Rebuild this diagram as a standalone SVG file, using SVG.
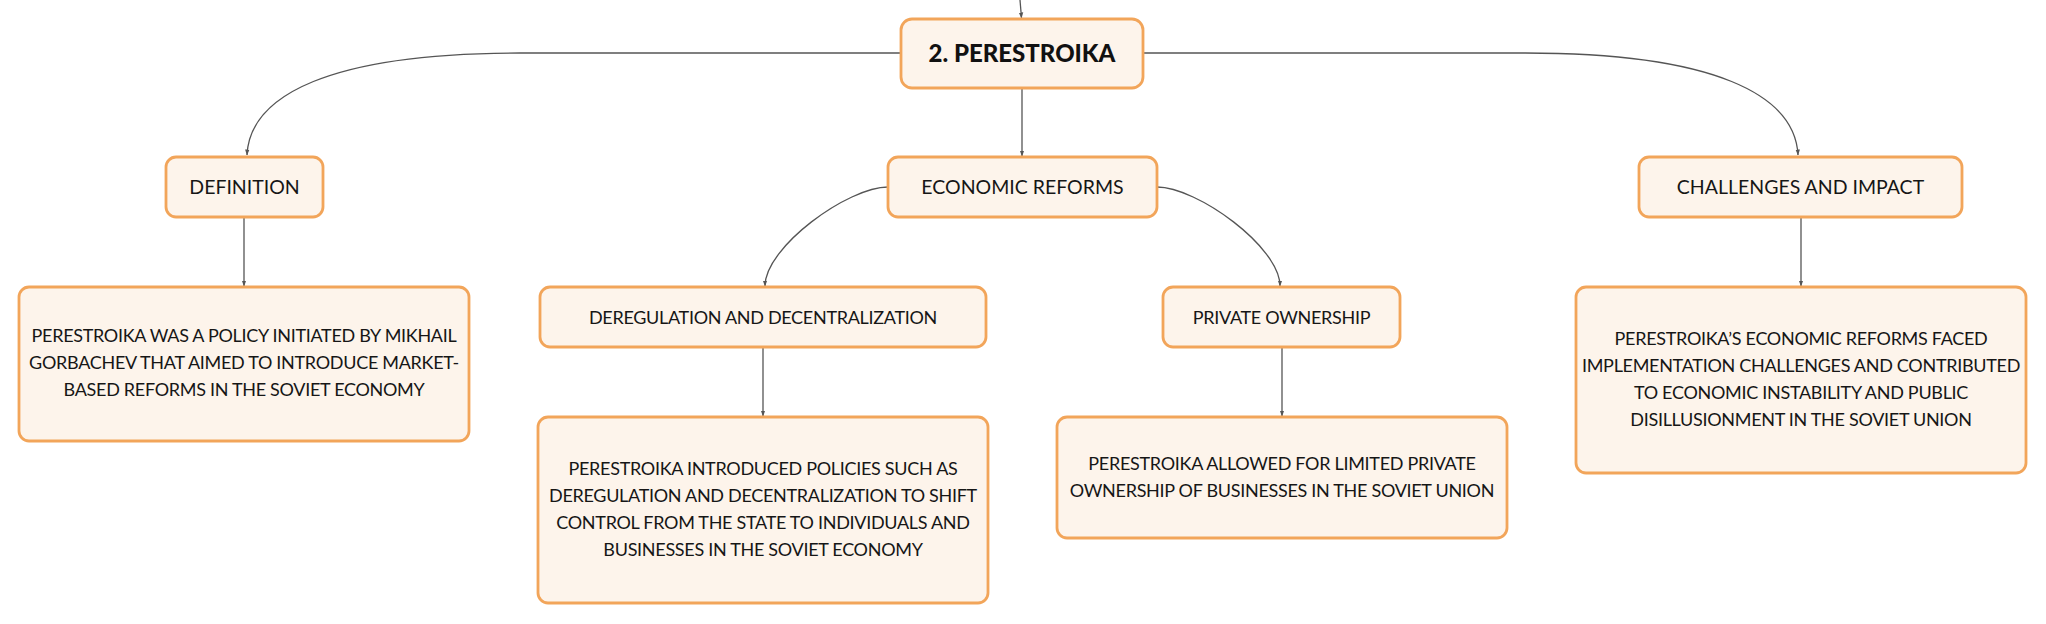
<svg xmlns="http://www.w3.org/2000/svg" width="2046" height="624" viewBox="0 0 2046 624">
<defs>
<style>
.box{fill:#FDF4EB;stroke:#F2A55A;stroke-width:2.8}
.lbl{font-family:Lato,"Open Sans",sans-serif;font-size:19.5px;fill:#161616;text-anchor:middle}
.txt{font-family:Lato,"Open Sans",sans-serif;font-size:18px;letter-spacing:-0.3px;fill:#161616;text-anchor:middle}
.ttl{font-family:Lato,"Open Sans",sans-serif;font-size:24px;font-weight:900;fill:#111;text-anchor:middle}
.con{fill:none;stroke:#555;stroke-width:1.3;marker-end:url(#ah)}
</style>
<marker id="ah" viewBox="0 0 6 6" refX="5.5" refY="3" markerWidth="6" markerHeight="6" markerUnits="userSpaceOnUse" orient="auto">
<path d="M0,0.8 L6,3 L0,5.2 z" fill="#555"/>
</marker>
</defs>
<rect width="2046" height="624" fill="#fff"/>
<g id="connectors">
<path class="con" d="M1020 0 L1021.5 18"/>
<path class="con" d="M1022 88 L1022 156"/>
<path class="con" d="M901 53 L520 53 C330 53 250 95 247 155"/>
<path class="con" d="M1143 53 L1525 53 C1715 53 1795 95 1798 155"/>
<path class="con" d="M888 187 C848 187 765 247 765 286"/>
<path class="con" d="M1157 187 C1197 187 1280 247 1280 286"/>
<path class="con" d="M244 217 L244 286"/>
<path class="con" d="M763 347 L763 416"/>
<path class="con" d="M1282 347 L1282 416"/>
<path class="con" d="M1801 217 L1801 286"/>
</g>
<g id="perestroika">
<rect class="box" x="901" y="19" width="242" height="69" rx="11"/>
<text class="ttl" x="1022" y="62">2. PERESTROIKA</text>
</g>
<g id="definition">
<rect class="box" x="166" y="157" width="157" height="60" rx="10"/>
<text class="lbl" x="244.5" y="194">DEFINITION</text>
</g>
<g id="definition-text">
<rect class="box" x="19" y="287" width="450" height="154" rx="10"/>
<text class="txt" x="244" y="342">PERESTROIKA WAS A POLICY INITIATED BY MIKHAIL</text>
<text class="txt" x="244" y="369">GORBACHEV THAT AIMED TO INTRODUCE MARKET-</text>
<text class="txt" x="244" y="396">BASED REFORMS IN THE SOVIET ECONOMY</text>
</g>
<g id="economic-reforms">
<rect class="box" x="888" y="157" width="269" height="60" rx="10"/>
<text class="lbl" x="1022.5" y="194">ECONOMIC REFORMS</text>
</g>
<g id="deregulation">
<rect class="box" x="540" y="287" width="446" height="60" rx="10"/>
<text class="txt" x="763" y="323.5">DEREGULATION AND DECENTRALIZATION</text>
</g>
<g id="deregulation-text">
<rect class="box" x="538" y="417" width="450" height="186" rx="10"/>
<text class="txt" x="763" y="475">PERESTROIKA INTRODUCED POLICIES SUCH AS</text>
<text class="txt" x="763" y="502">DEREGULATION AND DECENTRALIZATION TO SHIFT</text>
<text class="txt" x="763" y="529">CONTROL FROM THE STATE TO INDIVIDUALS AND</text>
<text class="txt" x="763" y="556">BUSINESSES IN THE SOVIET ECONOMY</text>
</g>
<g id="private-ownership">
<rect class="box" x="1163" y="287" width="237" height="60" rx="10"/>
<text class="txt" x="1281.5" y="323.5">PRIVATE OWNERSHIP</text>
</g>
<g id="private-ownership-text">
<rect class="box" x="1057" y="417" width="450" height="121" rx="10"/>
<text class="txt" x="1282" y="470">PERESTROIKA ALLOWED FOR LIMITED PRIVATE</text>
<text class="txt" x="1282" y="497">OWNERSHIP OF BUSINESSES IN THE SOVIET UNION</text>
</g>
<g id="challenges">
<rect class="box" x="1639" y="157" width="323" height="60" rx="10"/>
<text class="lbl" x="1800.5" y="194">CHALLENGES AND IMPACT</text>
</g>
<g id="challenges-text">
<rect class="box" x="1576" y="287" width="450" height="186" rx="10"/>
<text class="txt" x="1801" y="345">PERESTROIKA’S ECONOMIC REFORMS FACED</text>
<text class="txt" x="1801" y="372">IMPLEMENTATION CHALLENGES AND CONTRIBUTED</text>
<text class="txt" x="1801" y="399">TO ECONOMIC INSTABILITY AND PUBLIC</text>
<text class="txt" x="1801" y="426">DISILLUSIONMENT IN THE SOVIET UNION</text>
</g>
</svg>
